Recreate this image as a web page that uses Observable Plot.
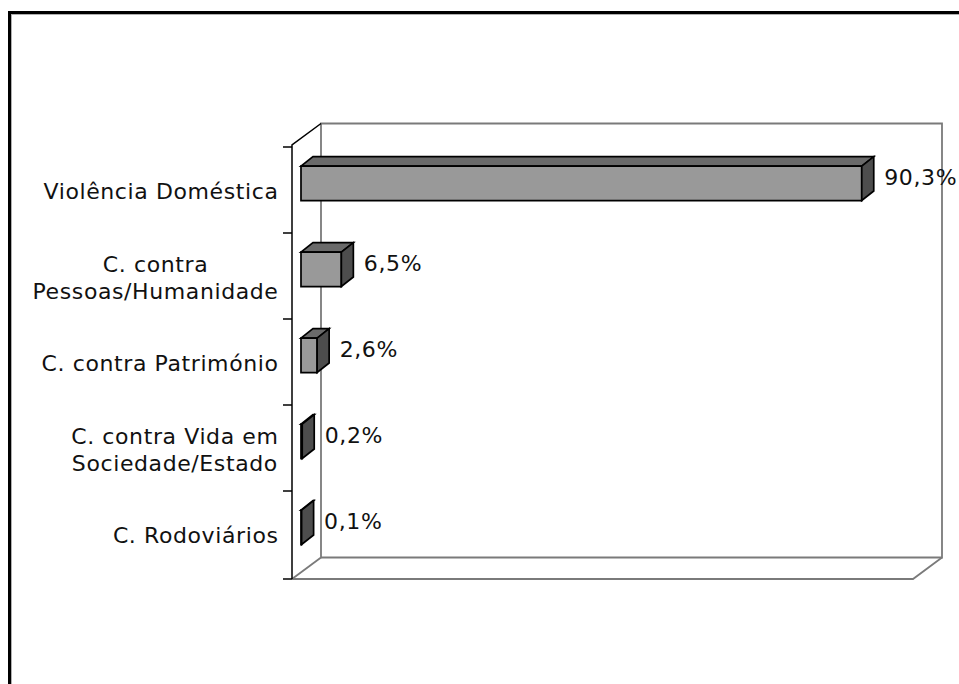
<!DOCTYPE html>
<html><head><meta charset="utf-8">
<script src="https://cdn.jsdelivr.net/npm/d3@7"></script>
<script src="https://cdn.jsdelivr.net/npm/@observablehq/plot@0.6"></script>
<style>
html,body{margin:0;padding:0;background:#fff;overflow:hidden;width:959px;height:684px}
#frame{position:absolute;left:8px;top:11px;width:2000px;height:2000px;border-top:3px solid #000;border-left:3px solid #000;box-shadow:inset 1px 1px 0 #b0b0b0;}
#chart{position:absolute;left:0;top:0}
#chart text{letter-spacing:0.6px}
</style></head><body><div id="frame"></div><div id="chart"></div>
<script>
const categories = [
  "Violência Doméstica",
  "C. contra\nPessoas/Humanidade",
  "C. contra Património",
  "C. contra Vida em\nSociedade/Estado",
  "C. Rodoviários"
];
const values = [90.3, 6.5, 2.6, 0.2, 0.1];
const valueLabels = ["90,3%", "6,5%", "2,6%", "0,2%", "0,1%"];
const xDomain = [0, 100];

// oblique 3D styling
const DX = 29, DY = -21.5;          // wall depth
const F1 = 0.31;                      // bar front depth fraction
const BDX = 12, BDY = -9.5;           // bar depth
const BAR_FRAC = 0.4;                 // bar thickness / band
const FONT = "'DejaVu Sans', Verdana, sans-serif";
const FS = 22;
const LS = 0.6;

const data = categories.map((c, i) => ({cat: c, value: values[i], label: valueLabels[i]}));

function scene(index, scales, vals, dim) {
  const {x, y} = scales;
  const n = categories.length;
  const yt = dim.marginTop, yb = dim.height - dim.marginBottom;
  const bw = (typeof y.bandwidth === "function" && y.bandwidth() > 0) ? y.bandwidth() : (yb - yt) / n;
  const xl = x(xDomain[0]), xr = x(xDomain[1]);
  const g = d3.create("svg:g");
  const path = (pts, stroke, w, fill = "none", close = false) =>
    g.append("path")
      .attr("d", "M" + pts.map(p => p.join(",")).join("L") + (close ? "Z" : ""))
      .attr("fill", fill).attr("stroke", stroke).attr("stroke-width", w)
      .attr("stroke-linejoin", "miter");
  const wall = "#7a7a7a";
  // back wall
  path([[xl + DX, yt + DY], [xr + DX, yt + DY], [xr + DX, yb + DY], [xl + DX, yb + DY]], wall, 1.8, "none", true);
  // floor
  path([[xl, yb], [xr, yb], [xr + DX, yb + DY]], wall, 1.8);
  path([[xl, yb], [xl + DX, yb + DY]], wall, 1.8);
  // bars
  data.forEach(d => {
    const x0 = x(0) + F1 * DX, x1 = x(d.value) + F1 * DX;
    const yc = y(d.cat) + bw / 2 + F1 * DY;
    const t = yc - BAR_FRAC * bw / 2, b = yc + BAR_FRAC * bw / 2;
    path([[x0, t], [x1, t], [x1 + BDX, t + BDY], [x0 + BDX, t + BDY]], "#000", 1.7, "#6a6a6a", true);
    path([[x0, t], [x1, t], [x1, b], [x0, b]], "#000", 1.7, "#999999", true);
    path([[x1, t], [x1 + BDX, t + BDY], [x1 + BDX, b + BDY], [x1, b]], "#000", 1.7, "#4d4d4d", true);
  });
  // left axis
  path([[xl + DX, yt + DY], [xl, yt], [xl, yb]], "#000", 1.5);
  categories.forEach(c => path([[xl - 9, y(c)], [xl, y(c)]], "#000", 1.5));
  path([[xl - 9, yb], [xl, yb]], "#000", 1.5);
  return g.node();
}

const ctx = document.createElement("canvas").getContext("2d");
ctx.font = `${FS}px ${FONT}`;
const labelWidth = s => Math.max(...s.split("\n").map(l => ctx.measureText(l).width + LS * l.length));

const catMarks = categories.map(c =>
  Plot.text([c], {
    x: () => 0, y: d => d, text: d => d,
    textAnchor: "middle", lineAnchor: "middle", lineHeight: 1.23,
    dx: -14 - labelWidth(c) / 2, fontSize: FS, fill: "#111"
  })
);

const chart = Plot.plot({
  width: 959, height: 684,
  marginLeft: 292, marginRight: 46, marginTop: 145, marginBottom: 105,
  style: {fontFamily: FONT, background: "transparent", overflow: "visible"},
  x: {domain: xDomain, axis: null},
  y: {type: "band", domain: categories, axis: null, padding: 0},
  marks: [
    scene,
    ...catMarks,
    Plot.text(data, {
      x: "value", y: "cat", text: "label",
      textAnchor: "start", lineAnchor: "middle",
      dx: F1 * DX + BDX + 10, dy: 0.6 * DY,
      fontSize: FS, fill: "#111"
    })
  ]
});
document.getElementById("chart").append(chart);
</script>
</body></html>
